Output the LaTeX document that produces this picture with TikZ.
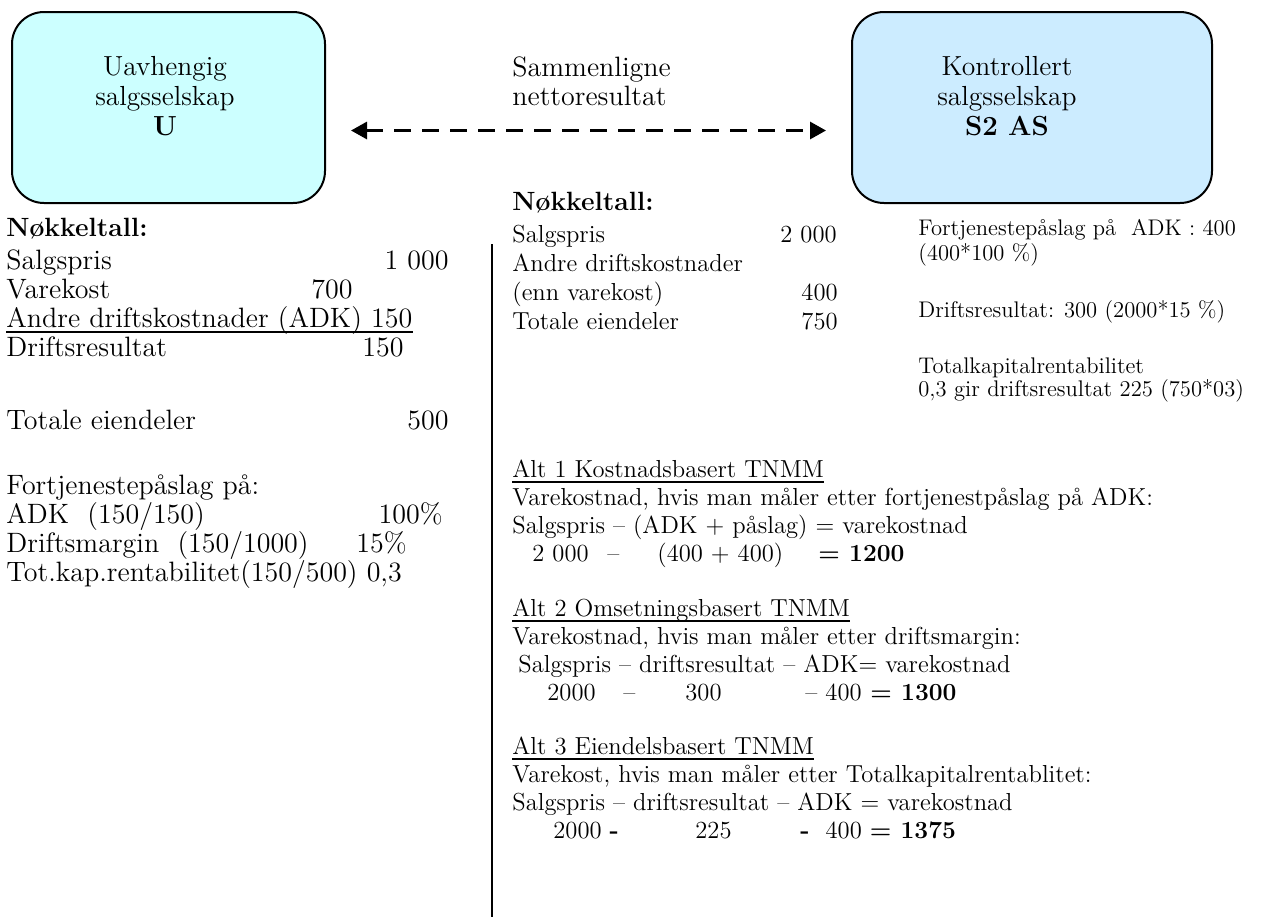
\documentclass[tikz,border=0pt]{standalone}
\usepackage{fontspec}
\setmainfont{Latin Modern Roman}
\usetikzlibrary{arrows.meta}
\definecolor{ucyan}{RGB}{204,255,255}
\definecolor{sblue}{RGB}{204,236,255}
\tikzset{
  compbox/.style={draw=black, line width=1pt, rounded corners=16pt, inner sep=0pt},
  boxtxt/.style={anchor=base, inner sep=0pt, font=\fontsize{13.8}{16}\selectfont},
  lcol/.style={anchor=base west, inner sep=0pt, font=\fontsize{14}{16}\selectfont},
  lnum/.style={anchor=base east, inner sep=0pt, font=\fontsize{14}{16}\selectfont},
  head/.style={anchor=base west, inner sep=0pt, font=\fontsize{13.2}{16}\selectfont\bfseries},
  mcol/.style={anchor=base west, inner sep=0pt, font=\fontsize{12.3}{14}\selectfont},
  mnum/.style={anchor=base east, inner sep=0pt, font=\fontsize{12.3}{14}\selectfont},
  scol/.style={anchor=base west, inner sep=0pt, font=\fontsize{11.3}{13}\selectfont},
  ulrule/.style={line width=1pt},
  cmparrow/.style={line width=1.5pt, dash pattern=on 8.5pt off 5.5pt,
    {Triangle[length=8pt,width=8.5pt]}-{Triangle[length=8pt,width=8.5pt]}},
}
\begin{document}
\begin{tikzpicture}[x=0.5pt,y=-0.5pt]
\useasboundingbox (0,0) rectangle (1267,917);

% the two companies
\node[compbox, fill=ucyan, minimum width=156.5pt, minimum height=95.5pt] (ubox) at (168.5,107.5) {};
\node[compbox, fill=sblue, minimum width=180pt, minimum height=95.5pt] (sbox) at (1032,107.5) {};
\node[boxtxt] (u1) at (165,75) {Uavhengig};
\node[boxtxt] (u2) at (165,105) {salgsselskap};
\node[boxtxt] (u3) at (165,135) {\textbf{U}};
\node[boxtxt] (s1) at (1007,75) {Kontrollert};
\node[boxtxt] (s2) at (1007,105) {salgsselskap};
\node[boxtxt] (s3) at (1007,135) {\textbf{S2 AS}};

% comparison
\node[lcol] (c1) at (512,76) {Sammenligne};
\node[lcol] (c2) at (512,105) {nettoresultat};
\draw[cmparrow, shorten <=12.5pt, shorten >=12.5pt]
  ([yshift=-11.5pt]ubox.east) -- ([yshift=-11.5pt]sbox.west);

% divider
\draw[line width=1pt] (492,244) -- (492,917);

% key figures, independent company
\node[head] (lh) at (6,236) {Nøkkeltall:};
\node[lcol] (l1) at (6,269) {Salgspris};
\node[lnum] (l1n) at (449,269) {1 000};
\node[lcol] (l2) at (6,298) {Varekost};
\node[lnum] (l2n) at (353,298) {700};
\node[lcol] (l3) at (6,327) {Andre driftskostnader (ADK) 150};
\draw[ulrule] ([yshift=-2.5pt]l3.base west) -- ([yshift=-2.5pt]l3.base east);
\node[lcol] (l4) at (6,356) {Driftsresultat};
\node[lnum] (l4n) at (404,356) {150};
\node[lcol] (l5) at (6,429) {Totale eiendeler};
\node[lnum] (l5n) at (449,429) {500};
\node[lcol] (l6) at (6,494) {Fortjenestepåslag på:};
\node[lcol] (l7) at (6,523) {ADK\ \ (150/150)};
\node[lnum] (l7n) at (443,523) {100\%};
\node[lcol] (l8) at (6,552) {Driftsmargin\ \ (150/1000)};
\node[lnum] (l8n) at (407,552) {15\%};
\node[lcol] (l9) at (6,581) {Tot.kap.rentabilitet(150/500) 0,3};

% key figures, controlled company
\node[head] (mh) at (512,210) {Nøkkeltall:};
\node[mcol] (m1) at (512,242) {Salgspris};
\node[mnum] (m1n) at (837,242) {2 000};
\node[mcol] (m2) at (512,271) {Andre driftskostnader};
\node[mcol] (m3) at (512,300) {(enn varekost)};
\node[mnum] (m3n) at (838,300) {400};
\node[mcol] (m4) at (512,329) {Totale eiendeler};
\node[mnum] (m4n) at (838,329) {750};

% derived figures
\node[scol] (r1) at (918,235) {Fortjenestepåslag på\ \ ADK : 400};
\node[scol] (r2) at (918,260) {(400*100 \%)};
\node[scol] (r3) at (918,317) {Driftsresultat: 300 (2000*15 \%)};
\node[scol] (r4) at (918,373) {Totalkapitalrentabilitet};
\node[scol] (r5) at (918,396) {0,3 gir driftsresultat 225 (750*03)};

% alternative 1
\node[mcol] (a1) at (512,477) {Alt 1 Kostnadsbasert TNMM};
\draw[ulrule] ([yshift=-2.5pt]a1.base west) -- ([yshift=-2.5pt]a1.base east);
\node[mcol] (a1b) at (512,505) {Varekostnad, hvis man måler etter fortjenestpåslag på ADK:};
\node[mcol] (a1c) at (512,533) {Salgspris – (ADK + påslag) = varekostnad};
\node[mcol] (a1d) at (532,561) {2 000};
\node[mcol] (a1e) at (607,561) {–};
\node[mcol] (a1f) at (657,561) {(400 + 400)};
\node[mcol] (a1g) at (818,561) {\textbf{= 1200}};

% alternative 2
\node[mcol] (a2) at (512,616) {Alt 2 Omsetningsbasert TNMM};
\draw[ulrule] ([yshift=-2.5pt]a2.base west) -- ([yshift=-2.5pt]a2.base east);
\node[mcol] (a2b) at (512,644) {Varekostnad, hvis man måler etter driftsmargin:};
\node[mcol] (a2c) at (518,672) {Salgspris – driftsresultat – ADK= varekostnad};
\node[mcol] (a2d) at (547,700) {2000};
\node[mcol] (a2e) at (623,700) {–};
\node[mcol] (a2f) at (685,700) {300};
\node[mcol] (a2g) at (805,700) {– 400};
\node[mcol] (a2h) at (870,700) {\textbf{= 1300}};

% alternative 3
\node[mcol] (a3) at (512,754) {Alt 3 Eiendelsbasert TNMM};
\draw[ulrule] ([yshift=-2.5pt]a3.base west) -- ([yshift=-2.5pt]a3.base east);
\node[mcol] (a3b) at (512,782) {Varekost, hvis man måler etter Totalkapitalrentablitet:};
\node[mcol] (a3c) at (512,810) {Salgspris – driftsresultat – ADK = varekostnad};
\node[mcol] (a3d) at (553,838) {2000 \textbf{-}};
\node[mcol] (a3f) at (695,838) {225};
\node[mcol] (a3g) at (800,838) {\textbf{-}\ \ 400 \textbf{= 1375}};
\end{tikzpicture}
\end{document}
